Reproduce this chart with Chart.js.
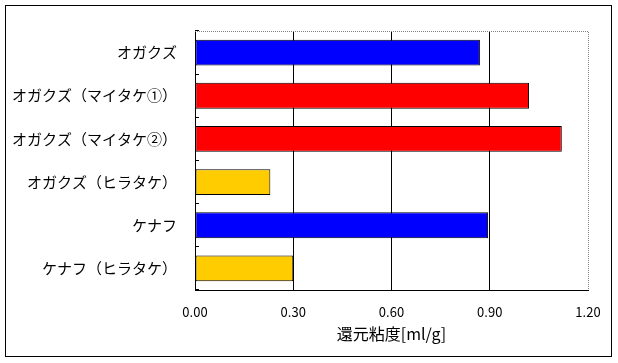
<!DOCTYPE html>
<html>
<head>
<meta charset="utf-8">
<script src="https://cdn.jsdelivr.net/npm/chart.js@4"></script>
<style>
  html, body { margin: 0; padding: 0; background: #fff; }
  #wrap { width: 618px; height: 363px; }
</style>
</head>
<body>
<div id="wrap"><canvas id="myChart" width="618" height="363"></canvas></div>
<script>
const categories = ['オガクズ', 'オガクズ（マイタケ①）', 'オガクズ（マイタケ②）', 'オガクズ（ヒラタケ）', 'ケナフ', 'ケナフ（ヒラタケ）'];
const viscosity = [0.87, 1.02, 1.12, 0.23, 0.895, 0.30];
const barColors = ['#0000ff', '#ff0000', '#ff0000', '#ffcc00', '#0000ff', '#ffcc00'];
const xTicks = [0, 0.3, 0.6, 0.9, 1.2];
const axisTitle = '還元粘度[ml/g]';

const jpFont = '"Noto Sans CJK JP", sans-serif';

// frame round the whole chart, dotted top/right edge of the plot area
const framePlugin = {
    id: 'frame',
    beforeDraw(chart) {
        const ctx = chart.ctx;
        ctx.save();
        ctx.fillStyle = '#fff';
        ctx.fillRect(0, 0, chart.width, chart.height);
        ctx.strokeStyle = '#000';
        ctx.lineWidth = 1;
        ctx.strokeRect(5.5, 5.5, chart.width - 12, chart.height - 12);
        ctx.restore();
    },
    afterDraw(chart) {
        const a = chart.chartArea;
        const ctx = chart.ctx;
        ctx.save();
        ctx.strokeStyle = '#808080';
        ctx.lineWidth = 1;
        ctx.setLineDash([1, 1]);
        ctx.beginPath();
        ctx.moveTo(a.left, a.top + 0.5);
        ctx.lineTo(a.right + 0.5, a.top + 0.5);
        ctx.lineTo(a.right + 0.5, a.bottom);
        ctx.stroke();
        ctx.restore();
    }
};

new Chart(document.getElementById('myChart').getContext('2d'), {
    type: 'bar',
    data: {
        labels: categories,
        datasets: [{
            data: viscosity,
            backgroundColor: barColors,
            borderColor: '#000',
            borderWidth: 1,
            borderSkipped: false,
            categoryPercentage: 1,
            barPercentage: 0.6
        }]
    },
    options: {
        indexAxis: 'y',
        responsive: false,
        animation: false,
        layout: { padding: { top: 15, right: 30, left: 0, bottom: 0 } },
        plugins: {
            legend: { display: false },
            tooltip: { enabled: false }
        },
        scales: {
            x: {
                min: 0,
                max: 1.2,
                afterBuildTicks: (scale) => { scale.ticks = xTicks.map(v => ({ value: v })); },
                afterFit: (scale) => { scale.height = 73; },
                ticks: {
                    color: '#000',
                    font: { family: jpFont, size: 13 },
                    padding: 14,
                    callback: (v) => Number(v).toFixed(2)
                },
                grid: {
                    drawTicks: false,
                    color: (c) => (c.tick && c.tick.value >= 1.2) ? 'rgba(0,0,0,0)' : '#000',
                    lineWidth: 1
                },
                border: { color: '#000', width: 1 },
                title: {
                    display: true,
                    text: axisTitle,
                    color: '#000',
                    font: { family: jpFont, size: 16 },
                    padding: { top: 0, bottom: 19 }
                }
            },
            y: {
                afterFit: (scale) => { scale.width = 195; },
                ticks: {
                    color: '#000',
                    font: { family: jpFont, size: 15 },
                    padding: 22
                },
                grid: {
                    offset: true,
                    drawOnChartArea: false,
                    drawTicks: true,
                    tickLength: -4,
                    tickColor: '#000'
                },
                border: { color: '#000', width: 1 }
            }
        }
    },
    plugins: [framePlugin]
});
</script>
</body>
</html>
